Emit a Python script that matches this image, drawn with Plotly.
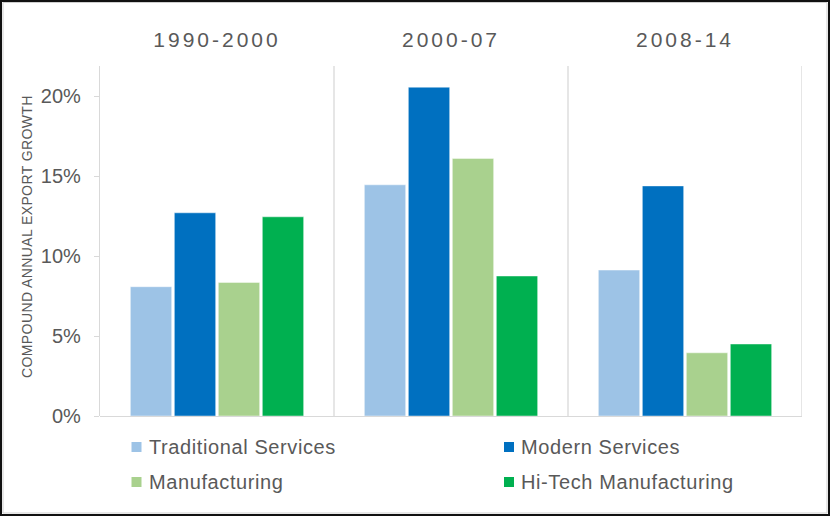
import plotly.graph_objects as go

# Compound annual export growth (%) by period and sector
periods = ["1990-2000", "2000-07", "2008-14"]
series_names = ["Traditional Services", "Modern Services", "Manufacturing", "Hi-Tech Manufacturing"]
traditional_services = [8.08, 14.45, 9.12]
modern_services = [12.7, 20.55, 14.38]
manufacturing = [8.35, 16.1, 3.95]
hitech_manufacturing = [12.45, 8.75, 4.5]
series_colors = ["#9DC3E6", "#0070C0", "#A9D18E", "#00B050"]
y_tick_values = [0, 5, 10, 15, 20]
y_tick_labels = ["0%", "5%", "10%", "15%", "20%"]

series_values = [traditional_services, modern_services, manufacturing, hitech_manufacturing]

W, H = 830, 516
L, R, T, B = 100, 28, 66, 100
PW, PH = W - L - R, H - T - B
FONT = "Liberation Sans, Arial, sans-serif"
GREY_TEXT = "#595959"
GREY_LINE = "#D9D9D9"


def px_x(px):
    return (px - L) / PW


def px_y(py):
    return (H - B - py) / PH


def tracked(text, spacing):
    return f'<span style="letter-spacing:{spacing}px">{text}</span>'


fig = go.Figure()
for name, vals, col in zip(series_names, series_values, series_colors):
    fig.add_trace(go.Bar(
        x=periods, y=vals, name=name,
        marker=dict(color=col, line=dict(color="rgba(255,255,255,0.45)", width=1)),
        showlegend=False,
    ))

shapes = []
# panel separators and right edge
for i in range(len(periods)):
    shapes.append(dict(type="line", xref="x", yref="y domain", x0=i + 0.5, x1=i + 0.5,
                       y0=0, y1=1, line=dict(color=GREY_LINE, width=1.3), layer="below"))
# outer frame
shapes.append(dict(type="rect", xref="paper", yref="paper",
                   x0=px_x(1), x1=px_x(W - 1), y0=px_y(1), y1=px_y(H - 1),
                   line=dict(color="#111111", width=2)))
shapes.append(dict(type="rect", xref="paper", yref="paper",
                   x0=px_x(3), x1=px_x(W - 3), y0=px_y(2.5), y1=px_y(H - 3),
                   line=dict(color="#CFCFCF", width=1)))

annotations = []
# y-axis title
annotations.append(dict(xref="paper", yref="paper", x=px_x(27), y=px_y(237),
                        text=tracked("COMPOUND ANNUAL EXPORT GROWTH", 0.4), textangle=-90,
                        showarrow=False,
                        font=dict(family=FONT, size=14, color=GREY_TEXT),
                        xanchor="center", yanchor="middle"))

# legend drawn as two columns of swatches and labels
legend_cols = [136.5, 509]
legend_rows = [447, 482]
for k, (name, col) in enumerate(zip(series_names, series_colors)):
    cx = legend_cols[k % 2]
    cy = legend_rows[k // 2]
    shapes.append(dict(type="rect", xref="paper", yref="paper",
                       x0=px_x(cx - 5), x1=px_x(cx + 5), y0=px_y(cy + 5), y1=px_y(cy - 5),
                       fillcolor=col, line=dict(width=0)))
    annotations.append(dict(xref="paper", yref="paper", x=px_x(cx + 10), y=px_y(cy),
                            text=tracked(name, 0.6), showarrow=False,
                            xanchor="left", yanchor="middle",
                            font=dict(family=FONT, size=20, color=GREY_TEXT)))

fig.update_layout(
    width=W, height=H,
    margin=dict(l=L, r=R, t=T, b=B),
    paper_bgcolor="white", plot_bgcolor="white",
    barmode="group", bargap=0.248, bargroupgap=0.06,
    font=dict(family=FONT, color=GREY_TEXT),
    shapes=shapes, annotations=annotations,
    xaxis=dict(
        type="category", range=[-0.5, len(periods) - 0.5], side="top",
        tickvals=periods, ticktext=[tracked(p, 3) for p in periods],
        tickfont=dict(family=FONT, size=21, color=GREY_TEXT),
        showgrid=False, showline=False, zeroline=False, ticks="",
        ticklabelstandoff=14,
    ),
    yaxis=dict(
        range=[0, PH / 16.0], tickvals=y_tick_values, ticktext=y_tick_labels,
        tickfont=dict(family=FONT, size=20, color=GREY_TEXT),
        showgrid=False, showline=True, linecolor=GREY_LINE, linewidth=1.3,
        ticks="outside", ticklen=5, tickcolor=GREY_LINE,
        zeroline=True, zerolinecolor=GREY_LINE, zerolinewidth=1.3,
        ticklabelstandoff=9,
    ),
)

fig.write_html("out.html")
